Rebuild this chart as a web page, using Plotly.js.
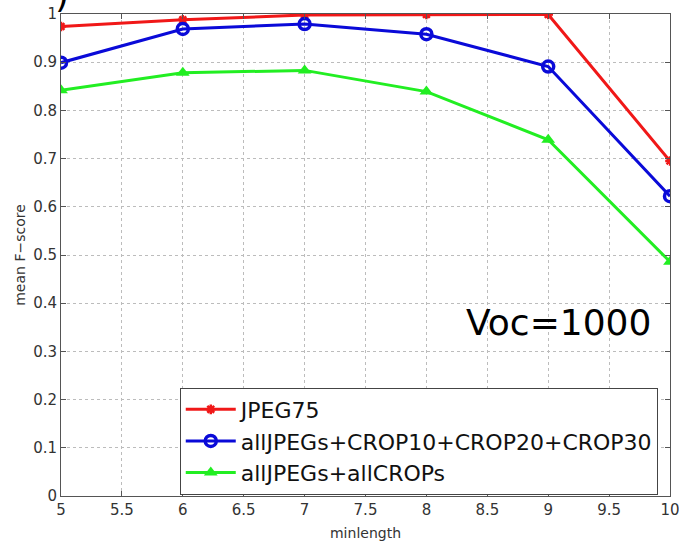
<!DOCTYPE html>
<html>
<head>
<meta charset="utf-8">
<script src="https://cdn.plot.ly/plotly-3.0.1.min.js"></script>
<style>html,body{margin:0;padding:0;background:#fff;}#chart{width:679px;height:541px;}</style>
</head>
<body>
<div id="chart"></div>
<script>
const minlength = [5, 6, 7, 8, 9, 10];
const jpeg75 = [0.974, 0.988, 0.998, 0.999, 0.999, 0.695];
const cropSubset = [0.899, 0.969, 0.979, 0.958, 0.891, 0.622];
const allCrops = [0.842, 0.878, 0.883, 0.839, 0.739, 0.486];
const seriesNames = ['JPEG75', 'allJPEGs+CROP10+CROP20+CROP30', 'allJPEGs+allCROPs'];
const xTicks = [5, 5.5, 6, 6.5, 7, 7.5, 8, 8.5, 9, 9.5, 10];
const yTicks = [0, 0.1, 0.2, 0.3, 0.4, 0.5, 0.6, 0.7, 0.8, 0.9, 1];

const FONT = 'DejaVu Sans, Liberation Sans, Arial, sans-serif';

const traces = [
  {x: minlength, y: jpeg75, name: seriesNames[0], mode: 'lines+markers',
   line: {color: '#f01818', width: 3},
   marker: {symbol: 'asterisk-open', size: 8, color: '#f01818', line: {color: '#f01818', width: 2.5}}},
  {x: minlength, y: cropSubset, name: seriesNames[1], mode: 'lines+markers',
   line: {color: '#0a0ad8', width: 3},
   marker: {symbol: 'circle-open', size: 11, color: '#0a0ad8', line: {color: '#0a0ad8', width: 3.5}}},
  {x: minlength, y: allCrops, name: seriesNames[2], mode: 'lines+markers',
   line: {color: '#22ee22', width: 3},
   marker: {symbol: 'triangle-up', size: 12, color: '#22ee22'}}
];

const axisCommon = {
  showline: true, linecolor: '#555', linewidth: 1, mirror: 'ticks',
  ticks: 'inside', ticklen: 5, tickcolor: '#555',
  showgrid: true, gridcolor: '#bcbcbc', griddash: 'dot', gridwidth: 1,
  zeroline: false, ticklabeloverflow: 'allow',
  tickfont: {family: FONT, size: 15, color: '#333'}
};

const layout = {
  width: 679, height: 541,
  margin: {l: 61, r: 9, t: 14, b: 45},
  paper_bgcolor: '#fff', plot_bgcolor: '#fff',
  showlegend: true,
  xaxis: Object.assign({}, axisCommon, {
    range: [5, 10], tickvals: xTicks, ticktext: xTicks.map(String),
    title: {text: 'minlength', font: {family: FONT, size: 14, color: '#333'}, standoff: 10}
  }),
  yaxis: Object.assign({}, axisCommon, {
    range: [0, 1], tickvals: yTicks, ticktext: yTicks.map(String),
    title: {text: 'mean F\u2212score', font: {family: FONT, size: 14, color: '#333'}, standoff: 4}
  }),
  legend: {
    x: 0.195, y: 0.225, xanchor: 'left', yanchor: 'top',
    bgcolor: '#fff', bordercolor: '#444', borderwidth: 1,
    font: {family: FONT, size: 22, color: '#111'},
    itemwidth: 50, tracegroupgap: 0
  },
  annotations: [
    {xref: 'paper', yref: 'paper', x: 0.972, y: 0.359, xanchor: 'right', yanchor: 'middle',
     text: 'Voc=1000', showarrow: false,
     font: {family: FONT, size: 36, color: '#000'}},
    {xref: 'paper', yref: 'paper', x: 0.002, y: 1.04, xanchor: 'center', yanchor: 'middle',
     text: ')', showarrow: false,
     font: {family: FONT, size: 36, color: '#000'}}
  ]
};

Plotly.newPlot('chart', traces, layout, {displayModeBar: false, staticPlot: true});
</script>
</body>
</html>
